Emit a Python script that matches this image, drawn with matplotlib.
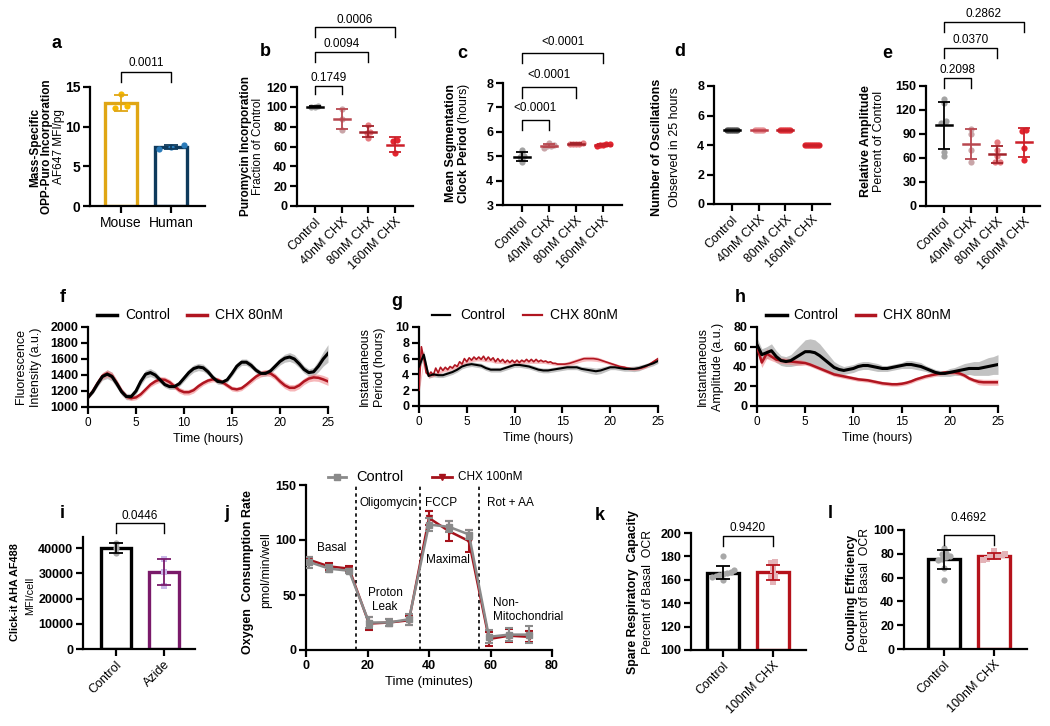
import numpy as np
import matplotlib
matplotlib.use('Agg')
import matplotlib.pyplot as plt
from matplotlib.transforms import blended_transform_factory
from matplotlib.lines import Line2D

plt.rcParams['font.family'] = ['Liberation Sans', 'DejaVu Sans']
plt.rcParams['mathtext.fontset'] = 'custom'
plt.rcParams['mathtext.rm'] = 'Liberation Sans'
plt.rcParams['mathtext.bf'] = 'Liberation Sans:bold'

# ---------------- data ----------------
# a
a_cats = ['Mouse', 'Human']
a_mouse = [14.1, 12.6, 12.3]
a_human = [7.7, 7.4, 7.2]
# b
dose_cats = ['Control', '40nM CHX', '80nM CHX', '160nM CHX']
b_ctrl = [100.0, 99.5, 100.5]
b_40 = [98, 88, 77]
b_80 = [82, 75, 74, 69]
b_160 = [67, 66, 53]
# c
c_ctrl = [5.25, 5.0, 4.95, 4.85, 4.75, 5.1]
c_40 = [5.55, 5.45, 5.4, 5.35, 5.42]
c_80 = [5.55, 5.52, 5.5, 5.52, 5.5]
c_160 = [5.5, 5.45, 5.42, 5.45, 5.48]
# d
d_ctrl = [5, 5, 5, 5, 5, 5]
d_40 = [5, 5, 5, 5, 5]
d_80 = [5, 5, 5, 5, 5, 5]
d_160 = [4, 4, 4, 4, 4, 4, 4, 4]
# e
e_ctrl = [134, 129, 106, 104, 68, 63]
e_40 = [96, 90, 70, 55]
e_80 = [80, 70, 63, 55, 55]
e_160 = [95, 94, 72, 57]

# f, g, h  (time in hours, every 0.5 h)
t_half = np.arange(0, 25.01, 0.5)
f_ctrl = [1120, 1190, 1290, 1380, 1410, 1380, 1290, 1190, 1130, 1130, 1200, 1320, 1410, 1430, 1400, 1340,
          1280, 1255, 1255, 1290, 1360, 1430, 1480, 1500, 1490, 1440, 1370, 1320, 1310, 1340, 1420, 1510,
          1560, 1560, 1520, 1460, 1420, 1420, 1450, 1510, 1570, 1610, 1625, 1600, 1540, 1470, 1430, 1440,
          1510, 1600, 1670]
f_ctrl_sem = [20, 25, 35, 45, 55, 55, 50, 45, 40, 40, 40, 45, 50, 50, 45, 40, 35, 35, 35, 35, 40, 45, 45,
              45, 45, 40, 35, 35, 30, 30, 35, 40, 40, 40, 40, 35, 35, 35, 35, 40, 45, 50, 55, 55, 50, 45,
              45, 55, 70, 90, 110]
f_chx = [1120, 1200, 1300, 1390, 1420, 1390, 1300, 1200, 1130, 1110, 1120, 1160, 1220, 1280, 1320, 1345,
         1340, 1310, 1260, 1210, 1185, 1185, 1210, 1260, 1300, 1330, 1345, 1340, 1310, 1270, 1230, 1220,
         1235, 1280, 1330, 1380, 1415, 1430, 1420, 1380, 1320, 1270, 1240, 1240, 1270, 1320, 1355, 1370,
         1365, 1345, 1320]
f_chx_sem = [20, 25, 30, 40, 45, 45, 40, 35, 30, 30, 30, 30, 30, 30, 35, 35, 35, 35, 35, 35, 35, 35, 35,
             35, 30, 30, 30, 30, 30, 30, 30, 30, 30, 30, 35, 35, 40, 40, 40, 40, 40, 40, 40, 40, 40, 40,
             40, 45, 45, 50, 50]

g_ctrl = [5.0, 6.5, 3.8, 4.0, 3.9, 3.9, 4.1, 4.3, 4.6, 5.0, 5.2, 5.3, 5.2, 5.1, 4.8, 4.6, 4.6, 4.6, 4.8,
          5.0, 5.2, 5.2, 5.1, 5.0, 4.8, 4.6, 4.5, 4.5, 4.6, 4.7, 4.8, 4.9, 4.9, 4.9, 4.7, 4.6, 4.5, 4.4,
          4.5, 4.7, 4.9, 4.9, 4.8, 4.7, 4.7, 4.7, 4.8, 5.0, 5.2, 5.4, 5.7]
g_ctrl_sem = [0.5, 0.5, 0.3, 0.3, 0.3, 0.3, 0.3, 0.3, 0.3, 0.3, 0.3, 0.3, 0.3, 0.3, 0.3, 0.3, 0.3, 0.3,
              0.3, 0.3, 0.3, 0.3, 0.3, 0.3, 0.3, 0.3, 0.3, 0.3, 0.3, 0.3, 0.3, 0.3, 0.3, 0.3, 0.3, 0.35,
              0.4, 0.4, 0.4, 0.35, 0.3, 0.3, 0.3, 0.3, 0.3, 0.35, 0.35, 0.3, 0.3, 0.3, 0.3]
# red period trace every 0.25 h
t_quarter = np.arange(0, 25.01, 0.25)
g_chx = [2.0, 7.5, 6.0, 4.2, 3.9, 4.3, 3.9, 4.8, 4.2, 4.9, 4.5, 4.9, 4.6, 5.0, 4.8, 5.2, 5.0, 5.6, 5.3,
         6.0, 5.6, 6.1, 5.8, 6.2, 5.9, 6.2, 5.9, 6.3, 5.8, 6.2, 5.8, 6.1, 5.6, 6.0, 5.6, 5.9, 5.5, 5.8,
         5.5, 5.8, 5.5, 5.8, 5.5, 5.8, 5.6, 5.9, 5.6, 5.9, 5.6, 5.9, 5.6, 5.8, 5.6, 5.7, 5.5, 5.6, 5.4,
         5.4, 5.3, 5.3, 5.3, 5.3, 5.35, 5.4, 5.5, 5.6, 5.7, 5.8, 5.9, 6.0, 6.0, 6.0, 6.0, 6.0, 5.95,
         5.9, 5.8, 5.7, 5.6, 5.5, 5.4, 5.3, 5.2, 5.1, 5.0, 4.95, 4.9, 4.8, 4.75, 4.7, 4.7, 4.7, 4.75,
         4.8, 4.9, 5.0, 5.2, 5.4, 5.6, 5.8, 6.0]
g_chx_sem = [0.3, 0.4, 0.3, 0.2, 0.2, 0.2, 0.2, 0.2, 0.2, 0.2, 0.2, 0.2, 0.2, 0.2, 0.2, 0.2, 0.2, 0.2,
             0.2, 0.2, 0.2, 0.2, 0.2, 0.2, 0.2, 0.2, 0.2, 0.2, 0.2, 0.2, 0.2, 0.25, 0.3, 0.3, 0.3, 0.3,
             0.3, 0.3, 0.25, 0.2, 0.2, 0.2, 0.2, 0.2, 0.2, 0.2, 0.2, 0.2, 0.2, 0.2, 0.2]

h_ctrl = [62, 52, 54, 56, 50, 46, 45, 46, 49, 52, 55, 55, 54, 51, 47, 43, 39, 37, 36, 37, 38, 40, 41, 41,
          40, 39, 38, 38, 39, 40, 41, 42, 42, 41, 40, 38, 36, 34, 33, 33, 34, 35, 36, 37, 38, 38, 38, 39,
          40, 41, 42]
h_ctrl_sem = [7, 6, 6, 7, 6, 5, 5, 6, 8, 10, 12, 13, 13, 12, 10, 8, 6, 5, 4, 4, 4, 4, 4, 4, 4, 4, 3, 3,
              3, 3, 3, 4, 4, 4, 4, 3, 3, 3, 3, 3, 4, 4, 5, 6, 6, 7, 7, 8, 9, 9, 10]
h_chx = [60, 44, 53, 50, 47, 46, 45.5, 45, 44.5, 44, 43.5, 42, 40, 38, 36, 34, 32, 31, 30, 29, 28, 27,
         26.5, 26, 25, 24, 23, 22.5, 22, 22, 22.5, 23.5, 25, 27, 28.5, 30, 31, 32, 33, 34, 34, 34, 33, 31,
         28, 26, 24.5, 24, 24, 24, 24]
h_chx_sem = [5, 5, 5, 4, 3, 3, 3, 3, 3, 3, 2, 2, 2, 2, 2, 2, 2, 2, 2, 2, 2, 2, 2, 2, 2, 2, 2, 2, 2, 2, 2,
             2, 2, 2, 2, 2, 2, 2, 2, 2, 2, 2, 2, 2, 2, 2, 3, 3, 3, 3, 3]

# i
i_cats = ['Control', 'Azide']
i_ctrl = [42000, 40000, 38000]
i_azide = [35600, 30700, 25200]

# j  (Seahorse OCR)
j_time = [1, 7.5, 14, 20.5, 27, 33.5, 40, 46.5, 53, 59.5, 66, 72.5]
j_ctrl = [80, 74, 72, 25, 25, 28, 114, 112, 105, 12, 14, 14]
j_ctrl_err = [5, 3, 2, 5, 3, 5, 6, 5, 4, 6, 6, 8]
j_chx = [82, 76, 74, 24, 25, 27, 120, 108, 99, 10, 13, 12]
j_chx_err = [3, 3, 2, 6, 3, 4, 6, 9, 10, 6, 6, 5]
j_inject = [16.3, 37.1, 56.3]

# k, l
kl_cats = ['Control', '100nM CHX']
k_ctrl = [180, 168, 167, 166, 165, 164, 163, 162, 160]
k_chx = [175, 174, 171, 168, 163, 162, 160, 158]
l_ctrl = [85, 81, 80, 78, 77, 76, 75, 68, 58]
l_chx = [82, 80, 79, 78, 77, 77, 76, 75]

# ---------------- helpers ----------------
W, H = 1050, 726
fig = plt.figure(figsize=(10.5, 7.26), dpi=100)


def px_axes(l, t, r, b):
    return fig.add_axes([l / W, 1 - b / H, (r - l) / W, (b - t) / H])


def ftext(x, y, s, **kw):
    fig.text(x / W, 1 - y / H, s, **kw)


def letter(x, y, s):
    ftext(x, y, s, fontsize=13, fontweight='bold', ha='center', va='center')


def ylab(x, y, s, bold=False, size=8.5):
    ftext(x, y, s, rotation=90, ha='center', va='center', fontsize=size,
          fontweight='bold' if bold else 'normal')


def style(ax, yticks, ylim, tsize=9):
    for s in ['top', 'right']:
        ax.spines[s].set_visible(False)
    for s in ['left', 'bottom']:
        ax.spines[s].set_linewidth(1.6)
    ax.tick_params(width=1.6, length=5, pad=2)
    ax.set_ylim(*ylim)
    ax.set_yticks(yticks)
    ax.set_yticklabels([str(v) for v in yticks], fontweight='bold', fontsize=tsize)


def bracket(ax, x1, x2, ytop, ybot, ytxt, label):
    tr = blended_transform_factory(ax.transData, fig.transFigure)
    yt, yb = 1 - ytop / H, 1 - ybot / H
    ax.plot([x1, x1, x2, x2], [yb, yt, yt, yb], transform=tr, color='black', lw=1.0,
            clip_on=False)
    ax.text((x1 + x2) / 2, 1 - ytxt / H, label, transform=tr, ha='center', va='center',
            fontsize=8.5)


def swarm(vals, thresh, step):
    vals = np.asarray(vals, float)
    order = np.argsort(vals)
    offs = np.zeros(len(vals))
    groups = []
    for idx in order:
        if groups and vals[idx] - vals[groups[-1][-1]] < thresh:
            groups[-1].append(idx)
        else:
            groups.append([idx])
    for g in groups:
        k = len(g)
        for j, idx in enumerate(g):
            offs[idx] = (j - (k - 1) / 2) * step
    return offs


def cat_xticks(ax, labels, size=9, rot=45):
    ax.set_xticks(range(len(labels)))
    ax.set_xticklabels(labels, rotation=rot, ha='right', rotation_mode='anchor', fontsize=size)


def dot_panel(ax, groups, pcol, bcol, thresh, step, marker='o'):
    for i, vals in enumerate(groups):
        vals = np.asarray(vals, float)
        offs = swarm(vals, thresh, step)
        ax.scatter(i + offs, vals, s=20, color=pcol[i], zorder=2, linewidths=0, marker=marker,
                   clip_on=False)
        m, sd = vals.mean(), vals.std(ddof=1)
        if sd > 0:
            ax.errorbar(i, m, yerr=sd, color=bcol[i], capsize=4, elinewidth=1.3, capthick=1.3,
                        zorder=3, fmt='none')
        ax.plot([i - 0.3, i + 0.3], [m, m], color=bcol[i], lw=1.8, zorder=3)


def bar_panel(ax, groups, ecol, pcol, thresh, step, markers, bottom=0, width=0.64):
    for i, vals in enumerate(groups):
        vals = np.asarray(vals, float)
        m, sd = vals.mean(), vals.std(ddof=1)
        ax.bar(i, m - bottom, bottom=bottom, width=width, facecolor='white', edgecolor=ecol[i],
               linewidth=2.4, zorder=1)
        ax.errorbar(i, m, yerr=sd, color=ecol[i], capsize=5, elinewidth=1.3, capthick=1.3,
                    zorder=3, fmt='none')
        offs = swarm(vals, thresh, step)
        ax.scatter(i + offs, vals, s=20, color=pcol[i], marker=markers[i], zorder=2,
                   linewidths=0)


def legend_line(x1, x2, y, color, lw, label, tx, size=10, marker=None, ms=6):
    xs = [x1 / W, x2 / W]
    ys = [1 - y / H, 1 - y / H]
    fig.add_artist(Line2D(xs, ys, color=color, lw=lw))
    if marker:
        fig.add_artist(Line2D([(x1 + x2) / 2 / W], [1 - y / H], color=color, marker=marker,
                              ms=ms, lw=0))
    ftext(tx, y, label, fontsize=size, ha='left', va='center')


red_dark = '#b01520'
dose_pts = ['#a3a3a3', '#c9a5a8', '#e57b80', '#e4252f']
dose_bars = ['black', '#b8474f', '#a3222a', '#cc1f29']

# ---------------- a ----------------
ax = px_axes(90, 87, 205, 206)
bar_panel(ax, [a_mouse, a_human], ['#E0A614', '#0E3A5C'], ['#F5B800', '#2B7BB9'], 0.35, 0.25,
          ['o', 'o'])
style(ax, [0, 5, 10, 15], (0, 15), tsize=10)
ax.set_xlim(-0.62, 1.68)
ax.set_xticks([0, 1])
ax.set_xticklabels(a_cats, fontsize=10)
bracket(ax, 0, 1, 72, 82, 63, '0.0011')
letter(57, 43, 'a')
ylab(35, 147, 'Mass-Specific', bold=True)
ylab(47, 147, 'OPP-Puro Incorporation', bold=True)
ylab(59, 147, 'AF647 MFI/pg')

# ---------------- b ----------------
ax = px_axes(297, 87, 413, 206)
dot_panel(ax, [b_ctrl, b_40, b_80, b_160], dose_pts, dose_bars, 3, 0.13)
style(ax, list(range(0, 121, 20)), (0, 120))
ax.set_xlim(-0.67, 3.67)
cat_xticks(ax, dose_cats)
bracket(ax, 0, 1, 86, 94, 78, '0.1749')
bracket(ax, 0, 2, 52, 62, 44, '0.0094')
bracket(ax, 0, 3, 27, 37, 20, '0.0006')
letter(265, 52, 'b')
ylab(246, 146, 'Puromycin Incorporation', bold=True)
ylab(258, 146, 'Fraction of Control')

# ---------------- c ----------------
ax = px_axes(503, 83, 622, 205)
dot_panel(ax, [c_ctrl, c_40, c_80, c_160], dose_pts, dose_bars, 0.06, 0.12)
style(ax, [3, 4, 5, 6, 7, 8], (3, 8))
ax.set_xlim(-0.7, 3.7)
cat_xticks(ax, dose_cats)
bracket(ax, 0, 1, 120, 130, 108, '<0.0001')
bracket(ax, 0, 2, 87, 98, 75, '<0.0001')
bracket(ax, 0, 3, 53, 63, 42, '<0.0001')
letter(462, 53, 'c')
ylab(451, 143, 'Mean Segmentation', bold=True, size=9)
ylab(464, 143, r'$\mathbf{Clock\ Period}$ (hours)', size=9)

# ---------------- d ----------------
ax = px_axes(714, 86, 830, 204)
dot_panel(ax, [d_ctrl, d_40, d_80, d_160], ['#4a4a4a', '#e58a8f', '#e0323a', '#e0252e'],
          ['black', '#c0404a', '#c01c26', '#c81e28'], 0.2, 0.075)
style(ax, [0, 2, 4, 6, 8], (0, 8))
ax.set_xlim(-0.67, 3.67)
cat_xticks(ax, dose_cats)
letter(680, 52, 'd')
ylab(657, 147, 'Number of Oscillations', bold=True, size=9)
ylab(675, 147, 'Observed in 25 hours', size=9)

# ---------------- e ----------------
ax = px_axes(926, 86, 1040, 206)
dot_panel(ax, [e_ctrl, e_40, e_80, e_160], dose_pts, dose_bars, 4, 0.18)
style(ax, list(range(0, 151, 30)), (0, 150))
ax.set_xlim(-0.67, 3.6)
cat_xticks(ax, dose_cats)
bracket(ax, 0, 1, 78, 88, 70, '0.2098')
bracket(ax, 0, 2, 48, 58, 40, '0.0370')
bracket(ax, 0, 3, 22, 32, 14, '0.2862')
letter(887, 53, 'e')
ylab(866, 141, 'Relative Amplitude', bold=True, size=9)
ylab(879, 141, 'Percent of Control', size=9)


# ---------------- f, g, h ----------------
def time_panel(ax, yticks, ylim):
    style(ax, yticks, ylim)
    ax.set_xlim(0, 25)
    ax.set_xticks([0, 5, 10, 15, 20, 25])
    ax.set_xticklabels(['0', '5', '10', '15', '20', '25'], fontsize=8.5)
    ax.set_xlabel('Time (hours)', fontsize=9, labelpad=3)


def band(ax, t, y, e, color, alpha):
    y, e = np.asarray(y, float), np.asarray(e, float)
    ax.fill_between(t, y - e, y + e, color=color, alpha=alpha, lw=0, zorder=1)


ax = px_axes(88, 327, 328, 407)
band(ax, t_half, f_ctrl, f_ctrl_sem, '#9a9a9a', 0.6)
band(ax, t_half, f_chx, f_chx_sem, '#f07c80', 0.55)
ax.plot(t_half, f_chx, color=red_dark, lw=1.8, zorder=3)
ax.plot(t_half, f_ctrl, color='black', lw=2.2, zorder=4)
time_panel(ax, list(range(1000, 2001, 200)), (1000, 2000))
letter(63, 298, 'f')
ylab(21, 367, 'Fluorescence', size=9)
ylab(36, 367, 'Intensity (a.u.)', size=9)
legend_line(97, 117, 315, 'black', 2.5, 'Control', 125)
legend_line(187, 207, 315, red_dark, 2.5, 'CHX 80nM', 215)

ax = px_axes(419, 327, 658, 406)
band(ax, t_half, g_ctrl, g_ctrl_sem, '#9a9a9a', 0.6)
band(ax, t_half, g_chx[::2], g_chx_sem, '#f07c80', 0.5)
ax.plot(t_quarter, g_chx, color=red_dark, lw=1.2, zorder=3)
ax.plot(t_half, g_ctrl, color='black', lw=1.5, zorder=4)
time_panel(ax, list(range(0, 11, 2)), (0, 10))
letter(397, 302, 'g')
ylab(365, 367, 'Instantaneous', size=9)
ylab(380, 367, 'Period (hours)', size=9)
legend_line(432, 450, 315, 'black', 1.6, 'Control', 460)
legend_line(523, 542, 315, red_dark, 1.6, 'CHX 80nM', 550)

ax = px_axes(757, 327, 998, 406)
band(ax, t_half, h_ctrl, h_ctrl_sem, '#9a9a9a', 0.6)
band(ax, t_half, h_chx, h_chx_sem, '#f07c80', 0.55)
ax.plot(t_half, h_chx, color=red_dark, lw=1.8, zorder=3)
ax.plot(t_half, h_ctrl, color='black', lw=2.2, zorder=4)
time_panel(ax, [0, 20, 40, 60, 80], (0, 80))
letter(740, 298, 'h')
ylab(703, 367, 'Instantaneous', size=9)
ylab(718, 367, 'Amplitude (a.u.)', size=9)
legend_line(766, 787, 315, 'black', 2.5, 'Control', 793)
legend_line(856, 875, 315, red_dark, 2.5, 'CHX 80nM', 883)

# ---------------- i ----------------
ax = px_axes(83, 537, 195, 649)
bar_panel(ax, [i_ctrl, i_azide], ['black', '#7a1a6a'], ['#a8a8a8', '#c9b8e8'], 1000, 0.2,
          ['o', 's'])
style(ax, [0, 10000, 20000, 30000, 40000], (0, 44500), tsize=9)
ax.set_xlim(-0.69, 1.65)
cat_xticks(ax, i_cats)
bracket(ax, 0, 1, 523, 533, 516, '0.0446')
letter(62, 513, 'i')
ylab(15, 592, 'Click-it AHA AF488', bold=True, size=7.8)
ylab(30, 596, 'MFI/cell', size=7.8)

# ---------------- j ----------------
ax = px_axes(306, 485, 552, 650)
ax.errorbar(j_time, j_chx, yerr=j_chx_err, color='#a5121b', marker='v', ms=5, lw=1.8,
            capsize=3, elinewidth=1.5, capthick=1.5, zorder=3)
ax.errorbar(j_time, j_ctrl, yerr=j_ctrl_err, color='#8a8a8a', marker='s', ms=5, lw=1.8,
            capsize=3, elinewidth=1.5, capthick=1.5, zorder=4)
for xv in j_inject:
    ax.axvline(xv, color='black', ls=(0, (2, 2)), lw=1.2, zorder=1)
style(ax, [0, 50, 100, 150], (0, 150))
ax.set_xlim(0, 80)
ax.set_xticks([0, 20, 40, 60, 80])
ax.set_xticklabels(['0', '20', '40', '60', '80'], fontweight='bold', fontsize=9)
ax.set_xlabel('Time (minutes)', fontsize=9.5, labelpad=3)
letter(227, 513, 'j')
ylab(248, 572, 'Oxygen  Consumption Rate', bold=True, size=9)
ylab(266, 570, 'pmol/min/well', size=9)
legend_line(328, 346, 477, '#8a8a8a', 2, 'Control', 356, size=10.5, marker='s', ms=5)
legend_line(432, 452, 477, '#a5121b', 2, 'CHX 100nM', 458, size=8.5, marker='v', ms=5)
ftext(332, 548, 'Basal', fontsize=8.5, ha='center', va='center')
ftext(359, 503, 'Oligomycin', fontsize=8.5, ha='left', va='center')
ftext(425, 503, 'FCCP', fontsize=8.5, ha='left', va='center')
ftext(487, 503, 'Rot + AA', fontsize=8.5, ha='left', va='center')
ftext(385, 600, 'Proton\nLeak', fontsize=8.5, ha='center', va='center', linespacing=1.3)
ftext(448, 560, 'Maximal', fontsize=8.5, ha='center', va='center')
ftext(493, 610, 'Non-\nMitochondrial', fontsize=8.5, ha='left', va='center', linespacing=1.3)

# ---------------- k ----------------
ax = px_axes(691, 533, 806, 650)
bar_panel(ax, [k_ctrl, k_chx], ['black', '#b5121b'], ['#a8a8a8', '#e4b3b8'], 1.6, 0.075,
          ['o', 's'], bottom=100)
style(ax, list(range(100, 201, 20)), (100, 200))
ax.set_xlim(-0.64, 1.66)
cat_xticks(ax, kl_cats)
bracket(ax, 0, 1, 536, 546, 528, '0.9420')
letter(600, 515, 'k')
ylab(633, 592, 'Spare Respiratory  Capacity', bold=True, size=8.8)
ylab(648, 592, 'Percent of Basal  OCR', size=8.8)

# ---------------- l ----------------
ax = px_axes(904, 530, 1027, 649)
bar_panel(ax, [l_ctrl, l_chx], ['black', '#b5121b'], ['#a8a8a8', '#e4b3b8'], 1.6, 0.075,
          ['o', 's'])
style(ax, list(range(0, 101, 20)), (0, 100))
ax.set_xlim(-0.8, 1.66)
cat_xticks(ax, kl_cats)
bracket(ax, 0, 1, 535, 545, 518, '0.4692')
letter(830, 513, 'l')
ylab(852, 592, 'Coupling Efficiency', bold=True, size=8.8)
ylab(865, 590, 'Percent of Basal  OCR', size=8.8)

fig.savefig('out.png', dpi=100)
